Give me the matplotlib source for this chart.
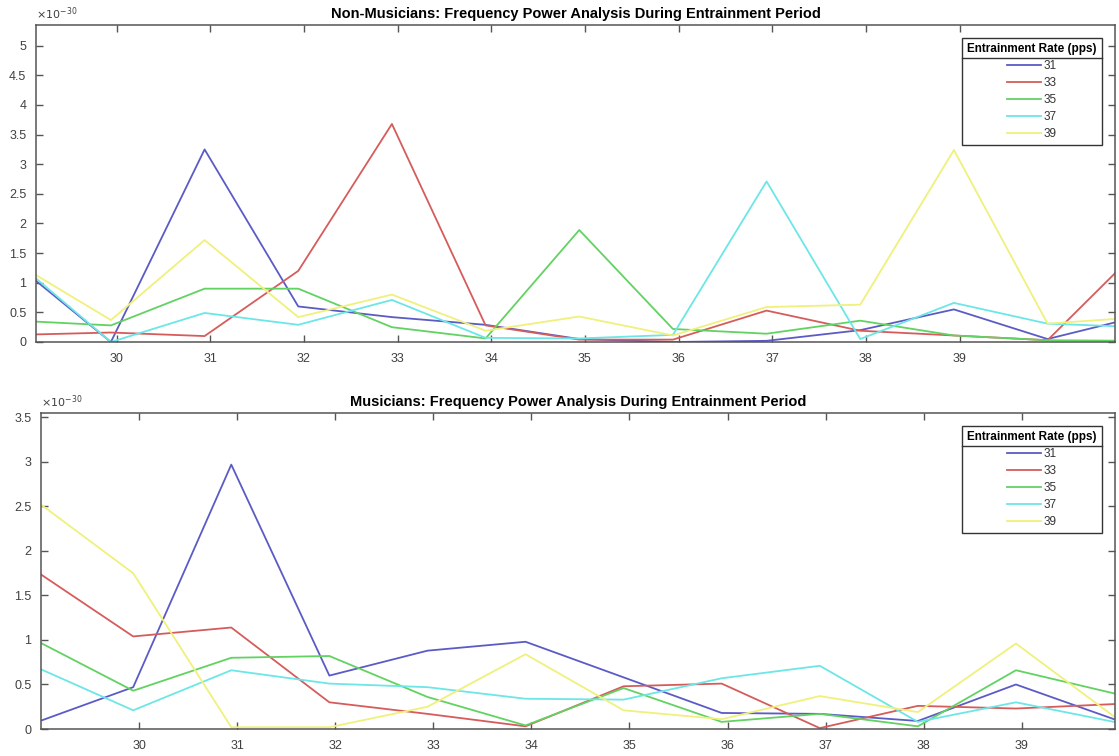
import numpy as np
import matplotlib
matplotlib.use("Agg")
from matplotlib import pyplot as plt
from matplotlib.lines import Line2D
from matplotlib.ticker import FuncFormatter

plt.rcParams['font.family'] = ['Liberation Sans', 'DejaVu Sans']

# FFT bin centres (Hz)
freqs = np.arange(29, 42) - 0.06
rates = ['31', '33', '35', '37', '39']
colors = ['#5b5bc6', '#d65c5c', '#62d262', '#6ce6e6', '#f0f07c']
xticks = list(range(30, 40))

# power per bin, in units of 1e-30
nm_31 = [1.29, 0.00, 3.25, 0.60, 0.42, 0.29, 0.05, 0.00, 0.02, 0.20, 0.55, 0.05, 0.44]
nm_33 = [0.12, 0.16, 0.10, 1.20, 3.68, 0.28, 0.04, 0.04, 0.53, 0.19, 0.11, 0.03, 1.60]
nm_35 = [0.36, 0.28, 0.90, 0.90, 0.25, 0.06, 1.89, 0.22, 0.14, 0.36, 0.11, 0.03, 0.02]
nm_37 = [1.34, 0.00, 0.49, 0.29, 0.71, 0.07, 0.06, 0.12, 2.71, 0.05, 0.66, 0.31, 0.25]
nm_39 = [1.32, 0.37, 1.72, 0.42, 0.80, 0.19, 0.43, 0.11, 0.59, 0.63, 3.24, 0.31, 0.42]

mu_31 = [0.07, 0.47, 2.97, 0.60, 0.88, 0.98, 0.58, 0.18, 0.17, 0.09, 0.50, 0.11]
mu_33 = [1.78, 1.04, 1.14, 0.30, 0.17, 0.03, 0.48, 0.51, 0.01, 0.26, 0.23, 0.28]
mu_35 = [1.00, 0.43, 0.80, 0.82, 0.36, 0.04, 0.46, 0.08, 0.17, 0.03, 0.66, 0.40]
mu_37 = [0.70, 0.21, 0.66, 0.51, 0.47, 0.34, 0.33, 0.57, 0.71, 0.08, 0.30, 0.08]
mu_39 = [2.57, 1.75, 0.02, 0.02, 0.25, 0.84, 0.21, 0.11, 0.37, 0.19, 0.96, 0.14]

W, H = 1119, 756
fig = plt.figure(figsize=(W / 100, H / 100), dpi=100)
fig.patch.set_facecolor('white')

axc = '#555555'
txc = '#404040'


def px_axes(left, top, right, bottom):
    return fig.add_axes([left / W, 1 - bottom / H, (right - left) / W, (bottom - top) / H])


def setup(ax, title, xlim, ylim, yticks):
    ax.set_xlim(*xlim)
    ax.set_ylim(*ylim)
    ax.set_xticks(xticks)
    ax.set_yticks(yticks)
    fmt = FuncFormatter(lambda v, p: '%g' % v)
    ax.xaxis.set_major_formatter(fmt)
    ax.yaxis.set_major_formatter(fmt)
    ax.tick_params(direction='in', length=5, width=1, color=axc, labelcolor=txc,
                   labelsize=9, top=True, right=True)
    ax.tick_params(axis='x', pad=8)
    ax.tick_params(axis='y', pad=7)
    for s in ax.spines.values():
        s.set_color(axc)
        s.set_linewidth(1.1)
    ax.set_title(title, fontsize=10.5, fontweight='bold', pad=5)
    ax.text(0.0, 1.008, r'$\times10^{-30}$', transform=ax.transAxes,
            fontsize=8, color=txc, ha='left', va='bottom')


def add_legend(ax, lines, axh):
    leg = ax.legend(lines, rates, title='Entrainment Rate (pps)', loc='upper right',
                    bbox_to_anchor=(1 - 13 / 1079, 1 - 13 / axh), borderaxespad=0,
                    fontsize=8.5, title_fontproperties={'weight': 'bold', 'size': 8.5},
                    handlelength=2.9, handletextpad=0.2, labelspacing=0.42,
                    fancybox=False, framealpha=1, edgecolor='#333333',
                    borderpad=0.45)
    leg.get_frame().set_linewidth(1.0)
    for t in leg.get_texts():
        t.set_color('#333333')
    return leg


ax1 = px_axes(36, 25, 1115, 342)
lines1 = []
for vals, c in zip([nm_31, nm_33, nm_35, nm_37, nm_39], colors):
    l, = ax1.plot(freqs, vals, color=c, lw=1.3)
    lines1.append(l)
setup(ax1, 'Non-Musicians: Frequency Power Analysis During Entrainment Period',
      (29.14, 40.66), (0, 5.35), np.arange(0, 5.01, 0.5))
leg1 = add_legend(ax1, lines1, 317)

ax2 = px_axes(41, 413, 1115, 729)
lines2 = []
for vals, c in zip([mu_31, mu_33, mu_35, mu_37, mu_39], colors):
    l, = ax2.plot(freqs[:12], vals, color=c, lw=1.3)
    lines2.append(l)
setup(ax2, 'Musicians: Frequency Power Analysis During Entrainment Period',
      (29.0, 39.95), (0, 3.55), np.arange(0, 3.51, 0.5))
leg2 = add_legend(ax2, lines2, 316)

# rule under each legend title
fig.canvas.draw()
r = fig.canvas.get_renderer()
inv = fig.transFigure.inverted()
for leg in (leg1, leg2):
    tb = leg.get_title().get_window_extent(r)
    fb = leg.get_frame().get_window_extent(r)
    y = tb.y0 - 3
    (x0, y0), (x1, _) = inv.transform([(fb.x0, y), (fb.x1, y)])
    fig.add_artist(Line2D([x0, x1], [y0, y0], transform=fig.transFigure,
                          color='#333333', lw=1.0))

fig.savefig('out.png', dpi=100)
